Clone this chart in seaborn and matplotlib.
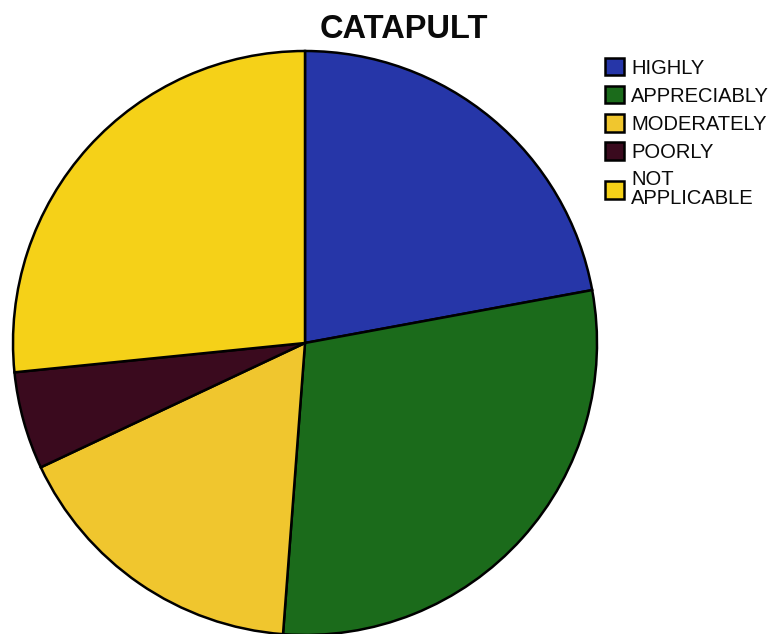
import matplotlib
matplotlib.use("Agg")
import matplotlib.pyplot as plt
import seaborn as sns

sns.set_theme(style="white")
plt.rcParams['font.family'] = ['Liberation Sans', 'DejaVu Sans']

categories = ["HIGHLY", "APPRECIABLY", "MODERATELY", "POORLY", "NOT\nAPPLICABLE"]
values = [22.1, 29.1, 16.8, 5.4, 26.6]
colors = ["#2636a8", "#1b6b1b", "#f0c62e", "#3a0a1e", "#f5d118"]

fig = plt.figure(figsize=(7.77, 6.34), dpi=100)
ax = fig.add_axes([13/777, -1/634, 584/777, 584/634])
wedges, _ = ax.pie(values, colors=colors, startangle=90, counterclock=False,
                   wedgeprops=dict(edgecolor="black", linewidth=1.8), radius=1)
ax.set_xlim(-1, 1)
ax.set_ylim(-1, 1)
ax.set_aspect("equal")
ax.axis("off")

fig.text(404/777, 1 - 29/634, "CATAPULT", ha="center", va="center",
         fontsize=23.5, fontweight="bold", color="#0a0a0a")

leg = fig.legend(wedges, categories, loc="upper left",
                 bbox_to_anchor=(605/777, 1 - 58/634), frameon=False,
                 fontsize=14.5, handlelength=0.95, handleheight=0.95,
                 handletextpad=0.35, labelspacing=0.42, borderpad=0,
                 borderaxespad=0)
for h in leg.legend_handles:
    h.set_edgecolor("black")
    h.set_linewidth(1.8)
for t in leg.get_texts():
    t.set_color("#0a0a0a")
    t.set_linespacing(1.0)

fig.savefig("out.png", dpi=100)
